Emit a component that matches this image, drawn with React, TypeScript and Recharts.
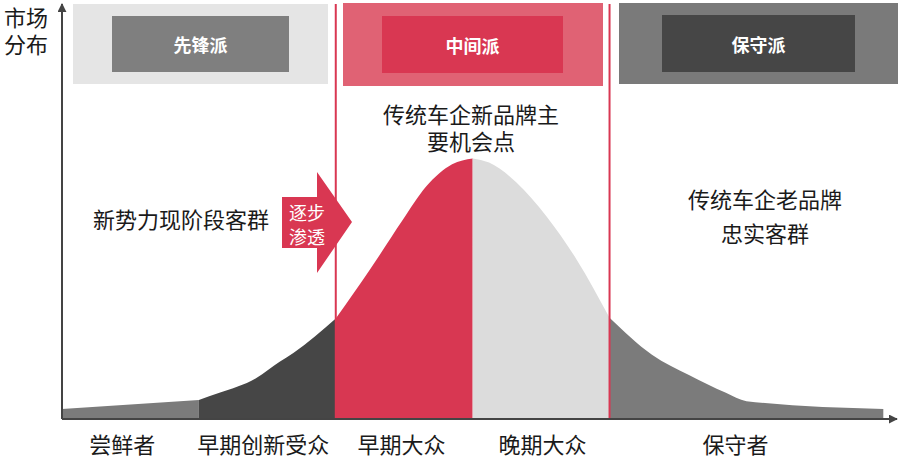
import React from 'react'
import { ComposedChart, Area, XAxis, YAxis, ReferenceLine } from 'recharts'

// curve samples: x in segment units (each segment = 1, conservative tail = 2), y = relative market share
const curveX = [0, 1, 1.15, 1.42, 1.59, 1.69, 2, 2.25, 2.49, 2.66, 2.85, 3, 3.12, 3.32, 3.54, 3.76, 4, 4.31, 4.58, 4.85, 5, 6]
const curveY = [2.4, 4.6, 6.3, 9.9, 13.8, 15.9, 24.2, 36, 48, 56, 61.4, 62.8, 61.8, 57, 48.8, 38.4, 24.4, 15.5, 10.6, 6.3, 4.3, 2.4]

const segmentNames = ['尝鲜者', '早期创新受众', '早期大众', '晚期大众', '保守者']
const segmentBounds = [0, 1, 2, 3, 4, 6]
const segmentColors = ['#7b7b7b', '#464646', '#d83752', '#dcdcdc', '#7b7b7b']
const labelTicks = [0.44, 1.47, 2.48, 3.51, 4.92]
const dividerLines = [2, 4]

const FONT = '"Noto Sans CJK SC", "Noto Sans", sans-serif'

const data = curveX.map((x, i) => {
  const row: Record<string, number> = { x }
  segmentNames.forEach((_, s) => {
    if (x >= segmentBounds[s] && x <= segmentBounds[s + 1]) row['s' + s] = curveY[i]
  })
  return row
})

const headers = [
  { text: '先锋派', outer: [73, 4, 255, 80], inner: [112, 16, 177, 56], outerColor: '#e5e5e5', innerColor: '#7f7f7f' },
  { text: '中间派', outer: [343, 3, 260, 83], inner: [382, 16, 181, 57], outerColor: '#e06274', innerColor: '#d93752' },
  { text: '保守派', outer: [619, 3, 279, 81], inner: [662, 15, 193, 57], outerColor: '#7a7a7a', innerColor: '#464646' },
]

// [text, center x, center y]
const notes: [string, number, number][] = [
  ['市场', 26, 16],
  ['分布', 26, 43],
  ['新势力现阶段客群', 181, 218],
  ['传统车企新品牌主', 471, 113],
  ['要机会点', 471, 140],
  ['传统车企老品牌', 765, 198],
  ['忠实客群', 765, 232],
]

function BottomTick(props: any) {
  const { x, index } = props
  return (
    <text x={x} y={443} textAnchor="middle" dominantBaseline="central" fontFamily={FONT} fontSize={22} fill="#1a1a1a">
      {segmentNames[index]}
    </text>
  )
}

export default function App() {
  return (
    <div style={{ position: 'absolute', left: 0, top: 0, width: 900, height: 459, background: '#fff', overflow: 'hidden' }}>
      {headers.map((h) => (
        <React.Fragment key={h.text}>
          <div style={{ position: 'absolute', left: h.outer[0], top: h.outer[1], width: h.outer[2], height: h.outer[3], background: h.outerColor }} />
          <div
            style={{
              position: 'absolute',
              left: h.inner[0],
              top: h.inner[1],
              width: h.inner[2],
              height: h.inner[3],
              background: h.innerColor,
              color: '#fff',
              fontFamily: FONT,
              fontWeight: 700,
              fontSize: 18,
              display: 'flex',
              alignItems: 'center',
              justifyContent: 'center',
            }}
          >
            {h.text}
          </div>
        </React.Fragment>
      ))}

      <div style={{ position: 'absolute', left: 0, top: 0 }}>
        <ComposedChart width={900} height={459} data={data} margin={{ top: 4, right: 3, left: 60, bottom: 0 }}>
          <defs>
            <marker id="axisArrow" viewBox="0 0 10 10" refX="9" refY="5" markerWidth="4.5" markerHeight="4.5" orient="auto-start-reverse">
              <path d="M0,0 L10,5 L0,10 z" fill="#444" />
            </marker>
          </defs>
          <XAxis
            dataKey="x"
            type="number"
            domain={[0, 6.1]}
            ticks={labelTicks}
            height={40}
            tickLine={false}
            tick={<BottomTick />}
            axisLine={{ stroke: '#444', strokeWidth: 2, markerEnd: 'url(#axisArrow)' }}
          />
          <YAxis
            type="number"
            domain={[0, 100]}
            width={2}
            tick={false}
            tickLine={false}
            axisLine={{ stroke: '#444', strokeWidth: 2, markerStart: 'url(#axisArrow)' }}
          />
          {segmentNames.map((name, s) => (
            <Area
              key={name}
              name={name}
              dataKey={'s' + s}
              type="monotone"
              stroke="none"
              fill={segmentColors[s]}
              fillOpacity={1}
              isAnimationActive={false}
              dot={false}
              activeDot={false}
            />
          ))}
          {dividerLines.map((x) => (
            <ReferenceLine key={x} x={x} stroke="#d93752" strokeWidth={2} />
          ))}
        </ComposedChart>
      </div>

      <svg width={900} height={459} style={{ position: 'absolute', left: 0, top: 0, pointerEvents: 'none' }}>
        {notes.map(([t, x, y]) => (
          <text key={t} x={x} y={y} textAnchor="middle" dominantBaseline="central" fontFamily={FONT} fontSize={22} fill="#1a1a1a">
            {t}
          </text>
        ))}
        <path d="M282,197 L317,197 L317,172 L352,222 L317,273 L317,248 L282,248 Z" fill="#d93752" />
        <text x={307} y={212} textAnchor="middle" dominantBaseline="central" fontFamily={FONT} fontSize={18} fill="#fff">
          逐步
        </text>
        <text x={307} y={236} textAnchor="middle" dominantBaseline="central" fontFamily={FONT} fontSize={18} fill="#fff">
          渗透
        </text>
      </svg>
    </div>
  )
}
